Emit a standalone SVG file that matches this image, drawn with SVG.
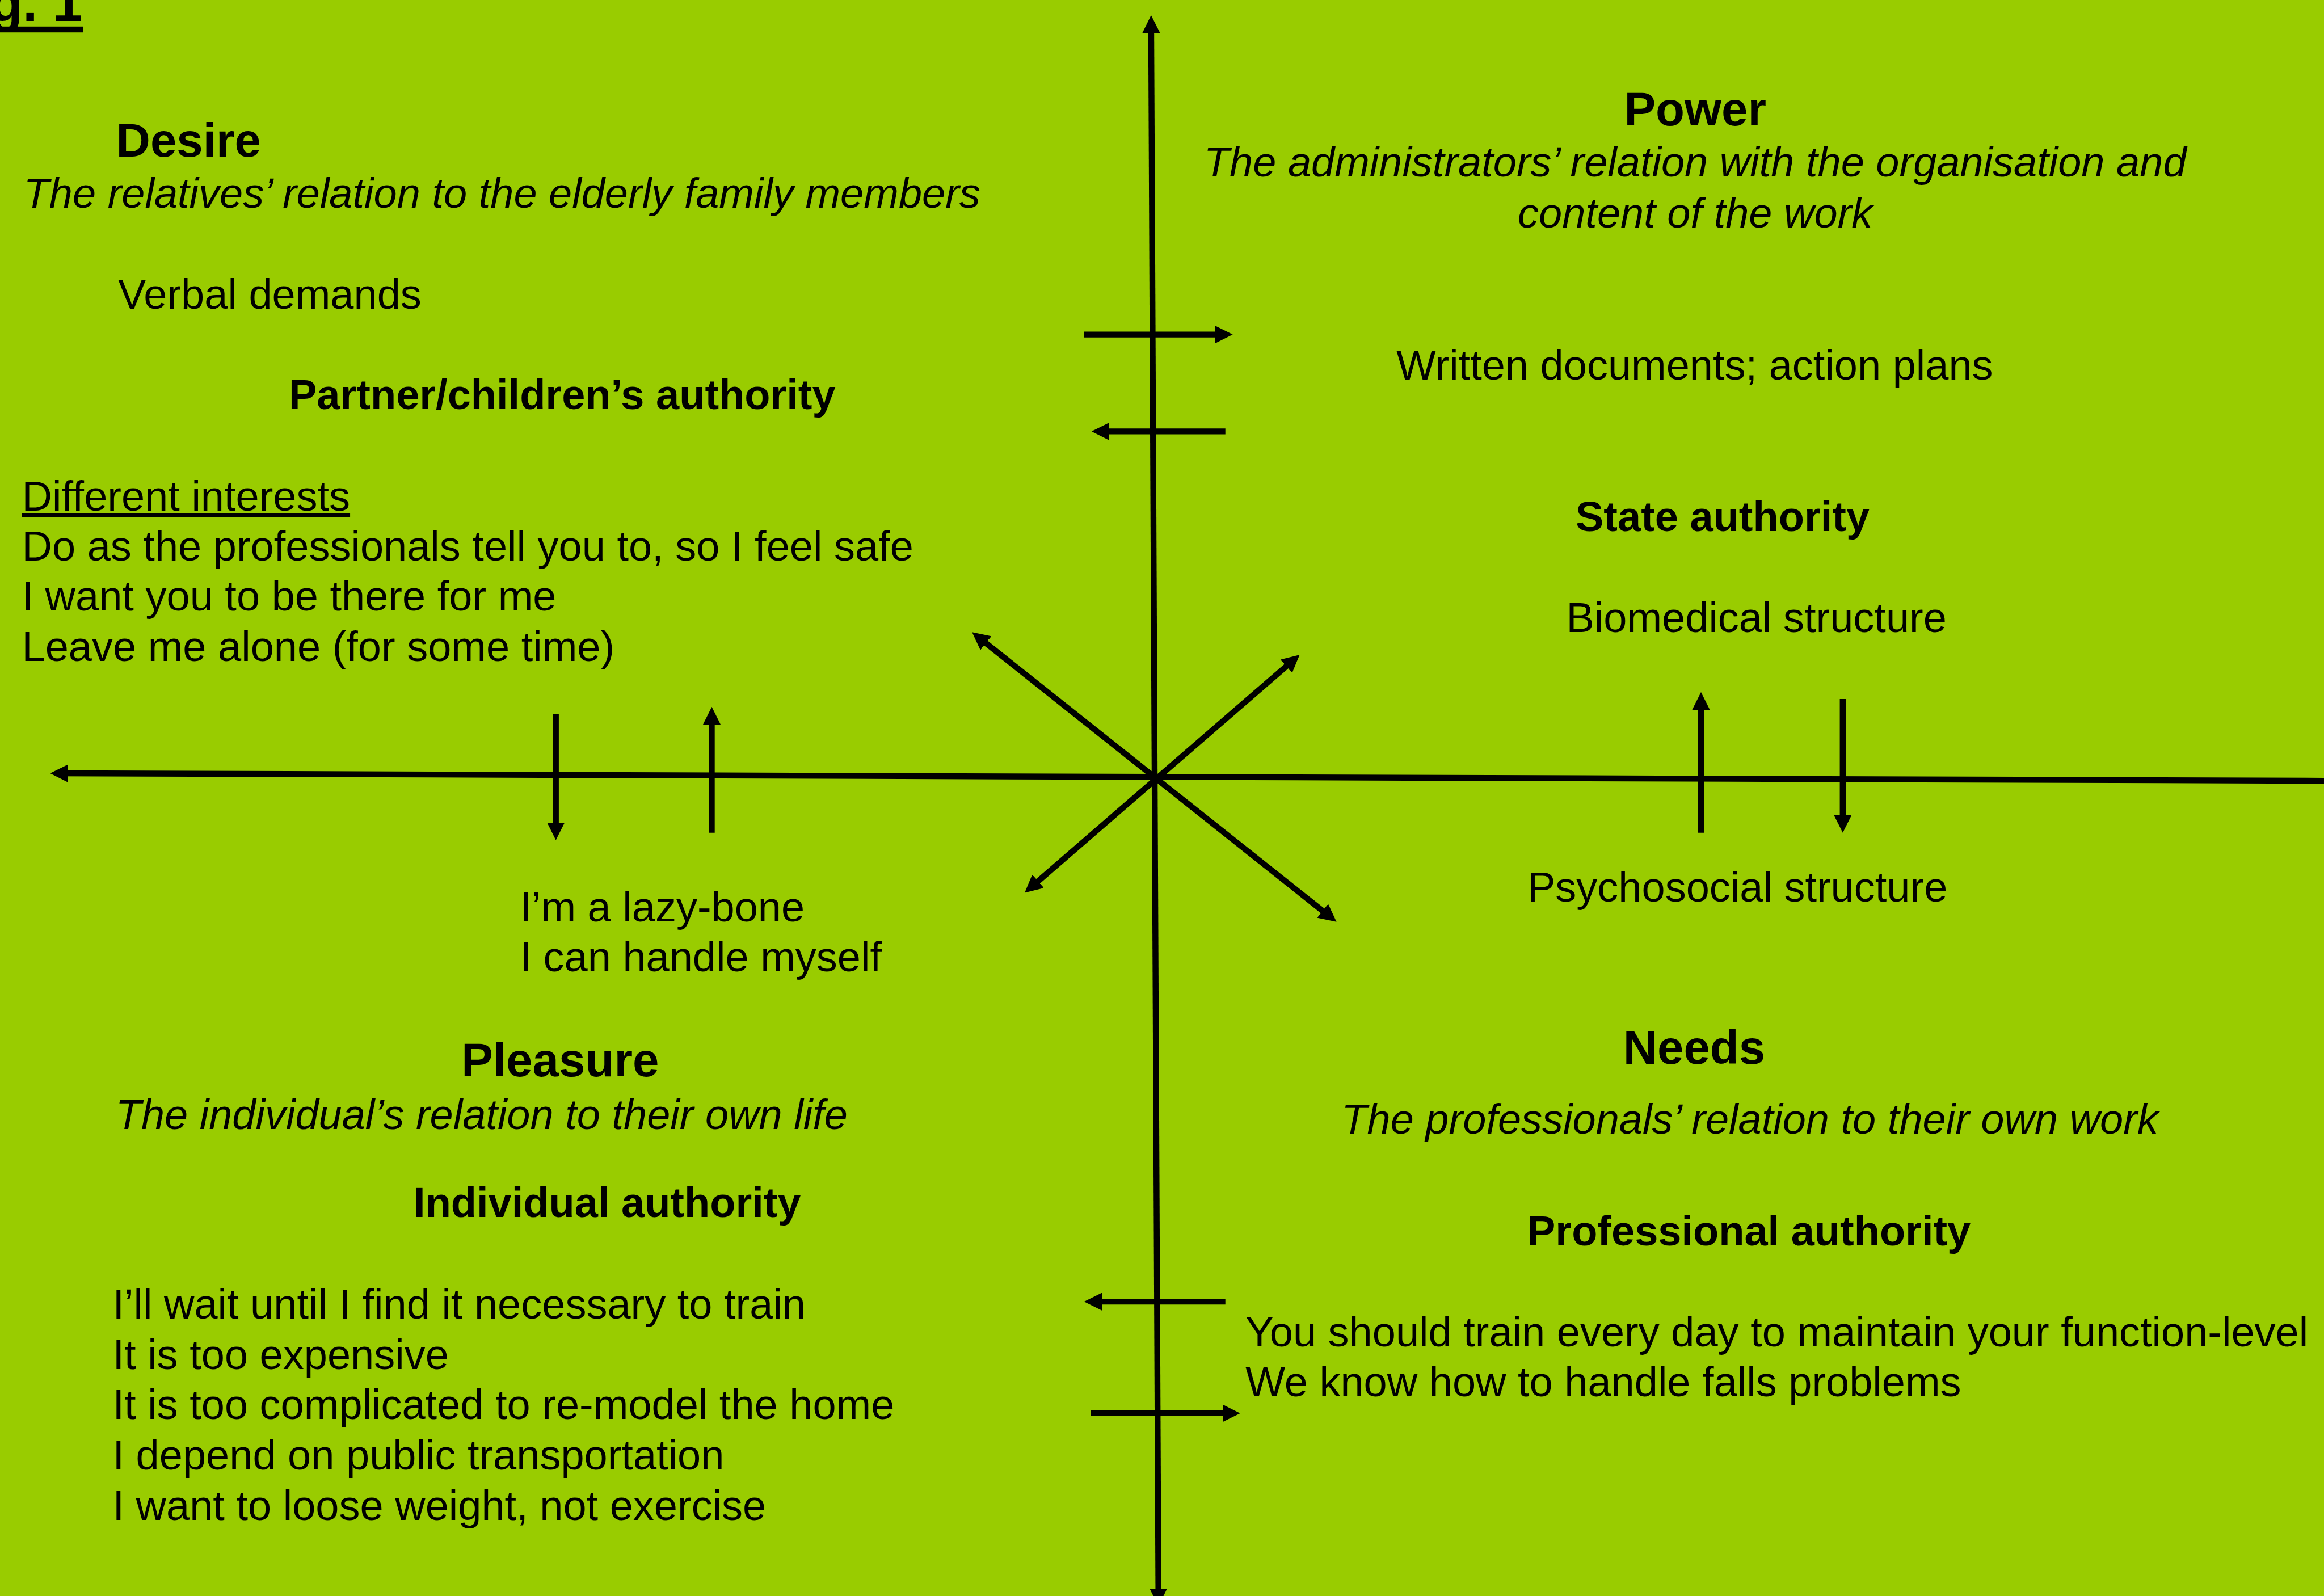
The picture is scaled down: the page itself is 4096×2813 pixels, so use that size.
<svg xmlns="http://www.w3.org/2000/svg" width="4096" height="2813" viewBox="0 0 4096 2813">
<style>
text { font-family: "Liberation Sans", Arial, sans-serif; fill: #000; }
.b { font-size: 74px; }
.t { font-size: 83.5px; font-weight: bold; }
.h { font-size: 74px; font-weight: bold; }
.i { font-size: 74px; font-style: italic; }
.c { text-anchor: middle; }
.u { text-decoration: underline; }
.ln { stroke: #000; stroke-width: 10.4; fill: none; }
</style>
<defs>
<marker id="ah" markerUnits="userSpaceOnUse" markerWidth="31.2" markerHeight="31.2" viewBox="0 0 31.2 31.2" refX="11.2" refY="15.6" orient="auto-start-reverse">
<path d="M0,0 L31.2,15.6 L0,31.2 Z" fill="#000"/>
</marker>
</defs>
<rect x="0" y="0" width="4096" height="2813" fill="#99CC00"/>

<g id="fig-label">
<text x="145.7" y="37.3" text-anchor="end" style="font-size:95px;font-weight:bold">Fig. 1</text>
<rect x="0" y="46.8" width="146" height="10.4" fill="#000"/>
</g>

<g id="connectors">
<path class="ln" d="M2028.9,46.9 L2041.7,2810.8" marker-start="url(#ah)" marker-end="url(#ah)"/>
<path class="ln" d="M108.4,1363.0 L4100,1376.1" marker-start="url(#ah)"/>
<path class="ln" d="M1910,589.6 L2152.7,589.6" marker-end="url(#ah)"/>
<path class="ln" d="M2159.7,760.4 L1943.9,760.4" marker-end="url(#ah)"/>
<path class="ln" d="M2159.7,2294.1 L1930.9,2294.1" marker-end="url(#ah)"/>
<path class="ln" d="M1923,2490.9 L2165.7,2490.9" marker-end="url(#ah)"/>
<path class="ln" d="M979.7,1258.9 L979.7,1460.8" marker-end="url(#ah)"/>
<path class="ln" d="M1254.5,1467.8 L1254.5,1265.9" marker-end="url(#ah)"/>
<path class="ln" d="M2998,1467.8 L2998,1239.9" marker-end="url(#ah)"/>
<path class="ln" d="M3247.8,1232 L3247.8,1447.8" marker-end="url(#ah)"/>
<path class="ln" d="M1728.9,1126.6 L2339.9,1612.4" marker-start="url(#ah)" marker-end="url(#ah)"/>
<path class="ln" d="M2275.5,1167.1 L1821.1,1560.5" marker-start="url(#ah)" marker-end="url(#ah)"/>
</g>

<g id="desire">
<text class="t" x="204.6" y="275.7">Desire</text>
<text class="i" x="41.6" y="365.9">The relatives’ relation to the elderly family members</text>
<text class="b" x="208" y="543.6">Verbal demands</text>
<text class="h" x="509" y="720.5">Partner/children’s authority</text>
<text class="b u" x="38.5" y="900">Different interests</text>
<text class="b" x="38.5" y="988.4">Do as the professionals tell you to, so I feel safe</text>
<text class="b" x="38.5" y="1076">I want you to be there for me</text>
<text class="b" x="38.5" y="1165.2">Leave me alone (for some time)</text>
</g>

<g id="pleasure">
<text class="b" x="916.4" y="1623.9">I’m a lazy-bone</text>
<text class="b" x="916.4" y="1712.3">I can handle myself</text>
<text class="t" x="813.2" y="1897">Pleasure</text>
<text class="i" x="203.7" y="1989.8">The individual’s relation to their own life</text>
<text class="h" x="729.1" y="2145">Individual authority</text>
<text class="b" x="198.5" y="2323.6">I’ll wait until I find it necessary to train</text>
<text class="b" x="198.5" y="2412.5">It is too expensive</text>
<text class="b" x="198.5" y="2501.4">It is too complicated to re-model the home</text>
<text class="b" x="198.5" y="2590.3">I depend on public transportation</text>
<text class="b" x="198.5" y="2679.2">I want to loose weight, not exercise</text>
</g>

<g id="power">
<text class="t c" x="2987.7" y="221.1">Power</text>
<text class="i c" x="2987.7" y="311.3">The administrators’ relation with the organisation and</text>
<text class="i c" x="2987.7" y="400.6">content of the work</text>
<text class="b c" x="2986.8" y="669.3">Written documents; action plans</text>
<text class="h" x="2777" y="935.5">State authority</text>
<text class="b" x="2760.5" y="1114.1">Biomedical structure</text>
<text class="b" x="2692" y="1589.2">Psychosocial structure</text>
</g>

<g id="needs">
<text class="t c" x="2986" y="1875.3">Needs</text>
<text class="i" x="2364.3" y="1998.4">The professionals’ relation to their own work</text>
<text class="h" x="2692" y="2195.2">Professional authority</text>
<text class="b" x="2195.2" y="2373">You should train every day to maintain your function-level</text>
<text class="b" x="2195.2" y="2461.4">We know how to handle falls problems</text>
</g>
</svg>
